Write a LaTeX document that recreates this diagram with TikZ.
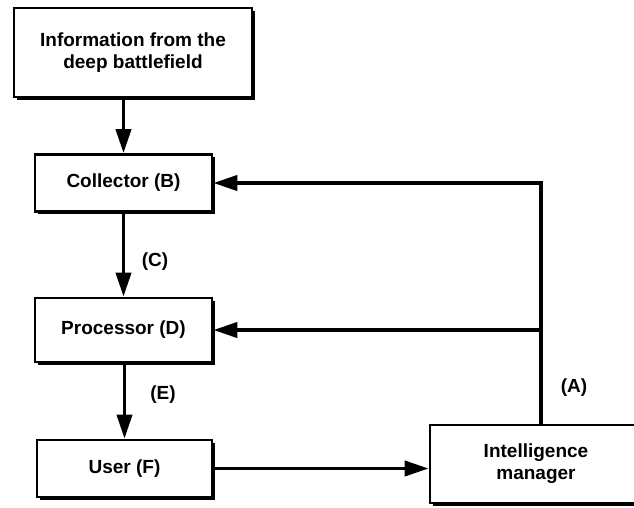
\documentclass[tikz,border=0pt]{standalone}
\usepackage{fontspec}
\setmainfont{Liberation Sans}
\usetikzlibrary{arrows.meta,shadows}
\begin{document}
\begin{tikzpicture}[x=1pt,y=-1pt,
  font=\fontsize{19}{22}\selectfont\bfseries,
  box/.style={draw,line width=2.6pt,fill=white,align=center,inner sep=0pt,
    drop shadow={shadow xshift=2.6pt,shadow yshift=-2.6pt,fill=black,opacity=1}},
  conn/.style={line width=3.8pt},
  arr/.style={conn,-{Triangle[length=24pt,width=15pt]}},
  lab/.style={inner sep=0pt}]
\useasboundingbox (0,0) rectangle (634,507);
\node[box,minimum width=238pt,minimum height=89pt] (top) at (133,52.5) {Information from the\\deep battlefield};
\node[box,minimum width=177pt,minimum height=57pt] (coll) at (123.5,183) {Collector (B)};
\node[box,minimum width=177pt,minimum height=64pt] (proc) at (123.5,330) {Processor (D)};
\node[box,minimum width=175pt,minimum height=57pt] (user) at (124.5,468.5) {User (F)};
\node[box,minimum width=212pt,minimum height=78pt] (im) at (536,464) {Intelligence\\manager};
\coordinate (vx) at (541,0);
\coordinate (jp) at (vx |- proc.east);
\draw[arr] (coll.north |- top.south) -- (coll.north);
\draw[arr] (proc.north |- coll.south) -- (proc.north);
\draw[arr] (user.north |- proc.south) -- (user.north);
\draw[arr] (user.east) -- (user.east -| im.west);
\draw[conn] (vx |- im.north) -- (vx |- coll.east);
\draw[arr] ([xshift=1.9pt]vx |- coll.east) -- (coll.east);
\draw[arr] (jp) -- (proc.east);
\node[lab] (lc) at (155,262) {(C)};
\node[lab] (le) at (163,395) {(E)};
\node[lab] (la) at (574,388) {(A)};
\end{tikzpicture}
\end{document}
